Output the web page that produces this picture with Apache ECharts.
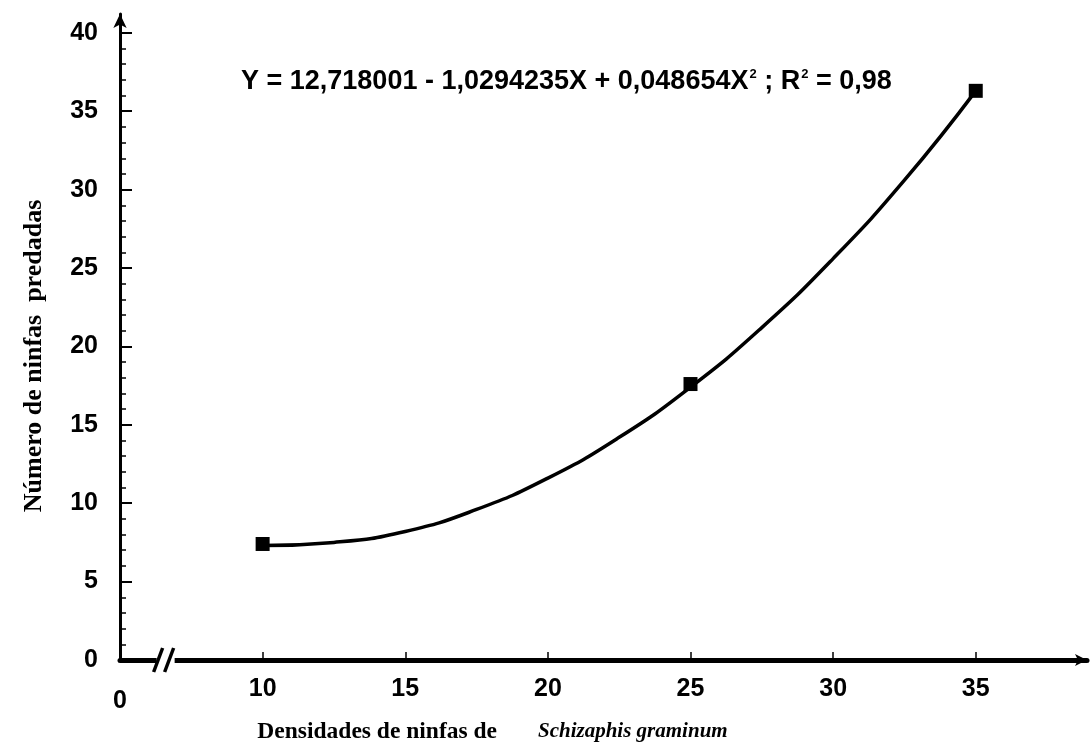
<!DOCTYPE html>
<html>
<head>
<meta charset="utf-8">
<script src="https://cdn.jsdelivr.net/npm/echarts@6/dist/echarts.min.js"></script>
<style>
  html, body { margin: 0; padding: 0; background: #fff; }
  #main { width: 1091px; height: 745px; }
</style>
</head>
<body>
<div id="main"></div>
<script>
// observed points (density, number predated)
var obsX = [10, 25, 35];
var obsY = [7.4, 17.6, 36.3];

// fitted curve
var fitX = [10, 12.5, 15, 17.5, 20, 22.5, 25, 27.5, 30, 32.5, 35];
var fitY = [7.3, 7.5, 8.2, 9.6, 11.6, 14.2, 17.4, 21.2, 25.6, 30.6, 36.3];

// tick labels
var xLabelVals = [5, 10, 15, 20, 25, 30, 35]; // 5 is the broken origin, labelled "0"
var xTickVals = [10, 15, 20, 25, 30, 35];
var yTickVals = [0, 5, 10, 15, 20, 25, 30, 35, 40];
var yMinorVals = [];
for (var i = 1; i < 40; i++) {
  if (i % 5 !== 0) yMinorVals.push(i);
}

var sans = 'Liberation Sans';
var serif = 'Liberation Serif';

var chart = echarts.init(document.getElementById('main'), null, { renderer: 'canvas' });

function pairs(xs, ys) {
  var out = [];
  for (var i = 0; i < xs.length; i++) out.push([xs[i], ys[i]]);
  return out;
}

chart.setOption({
  backgroundColor: '#fff',
  animation: false,
  title: {
    left: 236,
    top: 63,
    text: '{b|Y = 12,718001 - 1,0294235X + 0,048654X}{s|2}{b| ; R}{s|2}{b| = 0,98}',
    textStyle: {
      rich: {
        b: { fontFamily: sans, fontWeight: 'bold', fontSize: 27, color: '#000' },
        s: { fontFamily: sans, fontWeight: 'bold', fontSize: 13, color: '#000', verticalAlign: 'top', padding: [0, 0, 13, 1] }
      }
    }
  },
  grid: {
    left: 120,
    right: 4,
    top: 14,
    bottom: 85,
    outerBoundsMode: 'none',
    containLabel: false
  },
  xAxis: {
    type: 'value',
    min: 5,
    max: 38.9,
    name: '{n|Densidades de ninfas de}{g|}{i|Schizaphis graminum}',
    nameLocation: 'middle',
    nameGap: 60,
    nameTextStyle: {
      padding: [0, 222, 0, 0],
      rich: {
        n: { fontFamily: serif, fontWeight: 'bold', fontSize: 23.5, color: '#000' },
        g: { width: 41 },
        i: { fontFamily: serif, fontWeight: 'bold', fontStyle: 'italic', fontSize: 21, color: '#000' }
      }
    },
    splitLine: { show: false },
    axisLine: {
      show: true,
      onZero: false,
      symbol: ['none', 'arrow'],
      symbolSize: [9, 12],
      lineStyle: { color: '#000', width: 5 }
    },
    axisTick: {
      show: true,
      inside: true,
      length: 8,
      customValues: xTickVals,
      lineStyle: { color: '#000', width: 1.5 }
    },
    axisLabel: {
      customValues: xLabelVals,
      margin: 17,
      fontFamily: sans,
      fontWeight: 'bold',
      fontSize: 25,
      color: '#000',
      formatter: function (v) {
        return v === 5 ? '{z|0}' : String(v);
      },
      rich: {
        z: { fontFamily: sans, fontWeight: 'bold', fontSize: 25, color: '#000', padding: [12, 0, 0, 0] }
      }
    }
  },
  yAxis: [{
    type: 'value',
    min: 0,
    max: 41.2,
    name: 'Número de ninfas  predadas',
    nameLocation: 'middle',
    nameGap: 73,
    nameTextStyle: {
      fontFamily: serif,
      fontWeight: 'bold',
      fontSize: 26,
      color: '#000',
      padding: [0, 38, 0, 0]
    },
    splitLine: { show: false },
    axisLine: {
      show: true,
      onZero: false,
      symbol: ['none', 'arrow'],
      symbolSize: [10, 14],
      lineStyle: { color: '#000', width: 3 }
    },
    axisTick: {
      show: true,
      inside: true,
      length: 12,
      customValues: yTickVals,
      lineStyle: { color: '#000', width: 2 }
    },
    axisLabel: {
      customValues: yTickVals,
      margin: 22,
      fontFamily: sans,
      fontWeight: 'bold',
      fontSize: 25,
      color: '#000'
    }
  }, {
    // minor ticks on the y axis
    type: 'value',
    position: 'left',
    min: 0,
    max: 41.2,
    splitLine: { show: false },
    axisLine: { show: false },
    axisLabel: { show: false },
    axisTick: {
      show: true,
      inside: true,
      length: 6,
      customValues: yMinorVals,
      lineStyle: { color: '#000', width: 1.5 }
    }
  }],
  series: [{
    name: 'ajuste',
    type: 'line',
    smooth: true,
    symbol: 'none',
    data: pairs(fitX, fitY),
    lineStyle: { color: '#000', width: 3.5 },
    z: 2
  }, {
    name: 'observado',
    type: 'scatter',
    symbol: 'rect',
    symbolSize: 14,
    data: pairs(obsX, obsY),
    itemStyle: { color: '#000', opacity: 1 },
    z: 3
  }]
});

// axis break mark "//" near the origin
var bx = chart.convertToPixel({ xAxisIndex: 0 }, 6.6);
var by = chart.convertToPixel({ yAxisIndex: 0 }, 0);
chart.setOption({
  graphic: [{
    type: 'rect',
    shape: { x: bx - 9, y: by - 4, width: 18, height: 8 },
    style: { fill: '#fff' },
    z: 100
  }, {
    type: 'line',
    shape: { x1: bx - 12, y1: by + 12, x2: bx - 3, y2: by - 12 },
    style: { stroke: '#000', lineWidth: 3.5 },
    z: 101
  }, {
    type: 'line',
    shape: { x1: bx - 1, y1: by + 12, x2: bx + 8, y2: by - 12 },
    style: { stroke: '#000', lineWidth: 3.5 },
    z: 101
  }]
});
</script>
</body>
</html>
